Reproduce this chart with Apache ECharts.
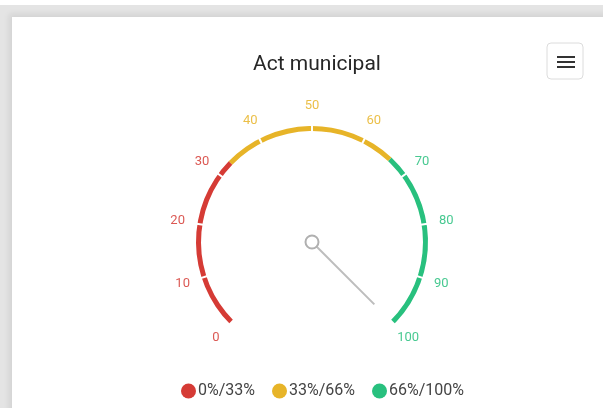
<!DOCTYPE html>
<html>
<head>
<meta charset="utf-8">
<script src="https://cdn.jsdelivr.net/npm/echarts@6/dist/echarts.min.js"></script>
<style>
  html, body { margin: 0; padding: 0; width: 603px; height: 408px; overflow: hidden; background: #fff; }
  .bg { position: absolute; left: 0; top: 5px; right: 0; bottom: 0; background: #e4e4e4; }
  .card { position: absolute; left: 12px; top: 17px; right: -20px; bottom: -20px; background: #fff;
          box-shadow: -3px -3px 6px rgba(0,0,0,0.08); }
  #chart { position: absolute; left: 0; top: 0; width: 603px; height: 408px; }
</style>
</head>
<body>
<div class="bg"></div>
<div class="card"></div>
<div id="chart"></div>
<script>
// gauge data
const chartTitle = 'Act municipal';
const gaugeValue = 100;
const gaugeMin = 0;
const gaugeMax = 100;
const bandStops = [0.33, 0.66, 1];
const bandNames = ['0%/33%', '33%/66%', '66%/100%'];
const bandColors = ['#d53b35', '#e7b428', '#28c07e'];

const chart = echarts.init(document.getElementById('chart'), null, { renderer: 'canvas' });

// hidden gauges, only so the legend gets one entry per band
const legendSeries = bandNames.map((name, i) => ({
  type: 'gauge',
  name: name,
  radius: 0,
  center: [312, 242],
  itemStyle: { color: bandColors[i] },
  axisLine: { show: false },
  axisTick: { show: false },
  splitLine: { show: false },
  axisLabel: { show: false },
  pointer: { show: false },
  title: { show: false },
  detail: { show: false },
  data: []
}));

const option = {
  animation: false,
  title: {
    text: chartTitle,
    left: 312,
    top: 49,
    textAlign: 'center',
    textStyle: { fontFamily: 'Roboto', fontSize: 21, fontWeight: 'normal', color: '#262626' }
  },
  legend: {
    data: bandNames,
    left: 176,
    top: 378,
    icon: 'circle',
    itemWidth: 15,
    itemHeight: 15,
    itemGap: 17,
    textStyle: { fontFamily: 'Roboto', fontSize: 16, color: '#444', padding: [0, 0, 0, -3] }
  },
  graphic: [
    {
      type: 'rect',
      shape: { x: 547, y: 43, width: 36, height: 36, r: 4 },
      style: { fill: '#fff', stroke: '#dcdcdc', lineWidth: 1 }
    },
    { type: 'line', shape: { x1: 557, y1: 57, x2: 575, y2: 57 }, style: { stroke: '#333', lineWidth: 2 } },
    { type: 'line', shape: { x1: 557, y1: 62, x2: 575, y2: 62 }, style: { stroke: '#333', lineWidth: 2 } },
    { type: 'line', shape: { x1: 557, y1: 67, x2: 575, y2: 67 }, style: { stroke: '#333', lineWidth: 2 } }
  ],
  series: [
    {
      type: 'gauge',
      center: [312, 242],
      radius: 116,
      startAngle: 225,
      endAngle: -45,
      min: gaugeMin,
      max: gaugeMax,
      splitNumber: 10,
      axisLine: {
        lineStyle: {
          width: 5,
          color: bandStops.map((s, i) => [s, bandColors[i]])
        }
      },
      axisTick: { show: false },
      splitLine: {
        distance: -6,
        length: 7,
        lineStyle: { color: '#fff', width: 2 }
      },
      axisLabel: {
        distance: -21,
        rotate: 0.01, // non-zero so labels are centred on their point
        color: 'auto',
        opacity: 0.85,
        fontFamily: 'Roboto',
        fontSize: 13
      },
      pointer: {
        icon: 'rect',
        width: 2,
        length: '76%',
        itemStyle: { color: '#bdbdbd' }
      },
      anchor: {
        show: true,
        showAbove: true,
        size: 13,
        itemStyle: { color: '#fff', borderColor: '#b0b0b0', borderWidth: 2 }
      },
      title: { show: false },
      detail: { show: false },
      data: [{ value: gaugeValue, name: chartTitle }]
    }
  ].concat(legendSeries)
};

chart.setOption(option);
</script>
</body>
</html>
